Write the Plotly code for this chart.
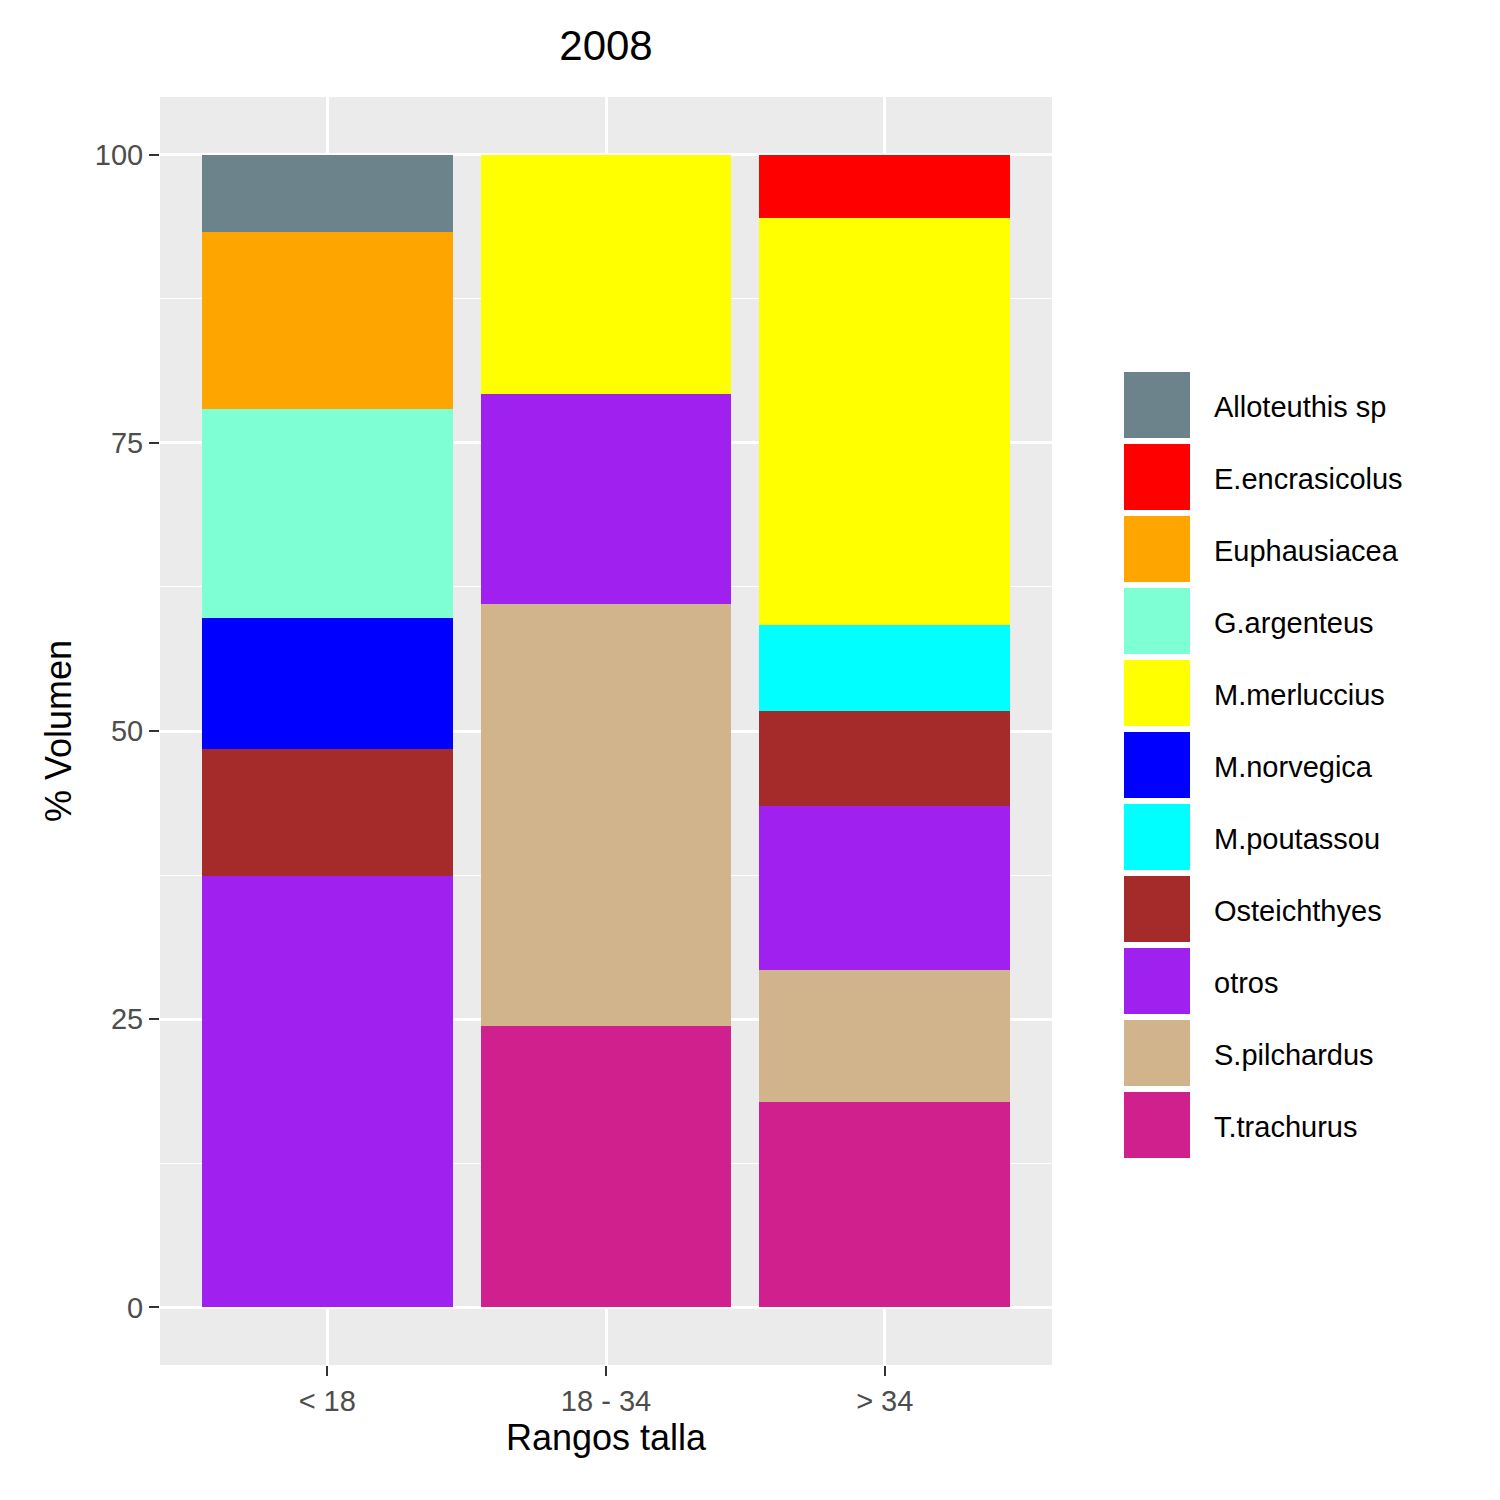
import plotly.graph_objects as go

categories = ["< 18", "18 - 34", "> 34"]
species = ["T.trachurus", "S.pilchardus", "otros", "Osteichthyes", "M.poutassou",
           "M.norvegica", "M.merluccius", "G.argenteus", "Euphausiacea",
           "E.encrasicolus", "Alloteuthis sp"]
values = {
    "T.trachurus":    [0, 24.4, 17.8],
    "S.pilchardus":   [0, 36.6, 11.5],
    "otros":          [37.4, 18.2, 14.2],
    "Osteichthyes":   [11.0, 0, 8.2],
    "M.poutassou":    [0, 0, 7.5],
    "M.norvegica":    [11.4, 0, 0],
    "M.merluccius":   [0, 20.8, 35.3],
    "G.argenteus":    [18.1, 0, 0],
    "Euphausiacea":   [15.4, 0, 0],
    "E.encrasicolus": [0, 0, 5.5],
    "Alloteuthis sp": [6.7, 0, 0],
}
colors = {
    "T.trachurus": "#D0208E", "S.pilchardus": "#D2B48C", "otros": "#A020F0",
    "Osteichthyes": "#A52A2A", "M.poutassou": "#00FFFF", "M.norvegica": "#0000FF",
    "M.merluccius": "#FFFF00", "G.argenteus": "#7FFFD4", "Euphausiacea": "#FFA500",
    "E.encrasicolus": "#FF0000", "Alloteuthis sp": "#6C838B",
}

fig = go.Figure()
for s in species:
    fig.add_trace(go.Bar(x=categories, y=values[s], name=s, marker_color=colors[s],
                         marker_line_width=0, width=0.9, showlegend=False))

# custom legend (alphabetical)
legend_order = sorted(species, key=lambda n: n.lower())
W, H = 1500, 1500
for i, s in enumerate(legend_order):
    top = 372 + i * 72
    fig.add_shape(type="rect", xref="paper", yref="paper",
                  x0=(1124 - 160) / 892, x1=(1190 - 160) / 892,
                  y0=(1365 - (top + 66)) / 1268, y1=(1365 - top) / 1268,
                  fillcolor=colors[s], line_width=0)
    fig.add_annotation(xref="paper", yref="paper", x=(1212 - 160) / 892,
                       y=(1365 - (top + 35)) / 1268, text=s, showarrow=False,
                       xanchor="left", yanchor="middle",
                       font=dict(size=29, color="black"))

fig.update_layout(
    barmode="stack", width=W, height=H,
    margin=dict(l=152, r=456, t=89, b=143),
    paper_bgcolor="white", plot_bgcolor="#EBEBEB",
    font=dict(family="Liberation Sans, Arial", color="black"),
    title=dict(text="2008", x=598 / 1500, xanchor="center", y=0.975, yanchor="middle",
               font=dict(size=42)),
    showlegend=False,
)
fig.update_xaxes(title=dict(text="Rangos talla", font=dict(size=36), standoff=8),
                 tickfont=dict(size=29, color="#4D4D4D"), showgrid=True,
                 gridcolor="white", gridwidth=2.5, ticks="outside", ticklen=10,
                 tickcolor="#333333", tickwidth=2, range=[-0.6, 2.6])
fig.update_yaxes(title=dict(text="% Volumen", font=dict(size=36), standoff=12),
                 tickfont=dict(size=29, color="#4D4D4D"), range=[-5, 105],
                 tickvals=[0, 25, 50, 75, 100], showgrid=True, gridcolor="white",
                 gridwidth=2.5, zeroline=False, ticks="outside", ticklen=10,
                 tickcolor="#333333", tickwidth=2,
                 minor=dict(tickvals=[12.5, 37.5, 62.5, 87.5], showgrid=True,
                            gridcolor="white", gridwidth=1.2, ticks=""))
fig.write_html("out.html")
